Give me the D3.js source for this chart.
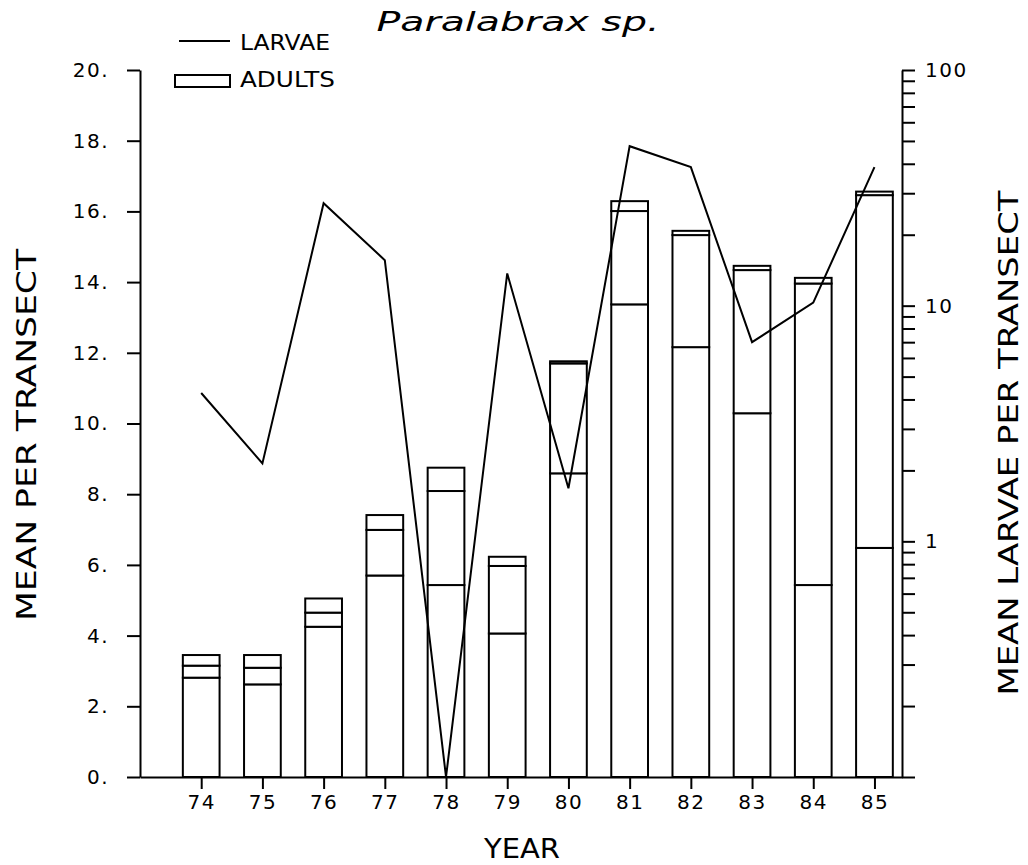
<!DOCTYPE html>
<html>
<head>
<meta charset="utf-8">
<script src="https://cdn.jsdelivr.net/npm/d3@7"></script>
<style>
  body { margin: 0; background: #fff; }
  svg { display: block; }
  text { font-family: "DejaVu Sans", sans-serif; fill: #000; }
</style>
</head>
<body>
<svg width="1028" height="865"></svg>
<script>
// Paralabrax sp. - adults (stacked bars, left axis) and larvae (line, log right axis)

const years = [74, 75, 76, 77, 78, 79, 80, 81, 82, 83, 84, 85];
// three stacked parts of each adult bar
const adultsLow = [2.81, 2.62, 4.25, 5.70, 5.43, 4.06, 8.59, 13.37, 12.16, 10.29, 5.43, 6.48];
const adultsMid = [0.34, 0.47, 0.40, 1.29, 2.66, 1.91, 3.11, 2.64, 3.17, 4.05, 8.53, 9.98];
const adultsTop = [0.30, 0.36, 0.40, 0.42, 0.66, 0.26, 0.06, 0.28, 0.12, 0.12, 0.16, 0.10];
const larvae = [4.26, 2.14, 27.2, 15.6, 0.1, 13.7, 1.68, 47.5, 38.7, 7.0, 10.3, 38.7];
const leftTicks = [0, 2, 4, 6, 8, 10, 12, 14, 16, 18, 20];
const rightLabels = [1, 10, 100];

const svg = d3.select("svg");

const plotLeft = 140, plotRight = 902, plotTop = 70, plotBottom = 777;

const x = d3.scaleLinear().domain([73, 85.45]).range([plotLeft, plotRight]);
const y = d3.scaleLinear().domain([0, 20]).range([plotBottom, plotTop]);
const yLog = d3.scaleLog().domain([0.1, 100]).range([plotBottom, plotTop]);

const table = years.map((yr, i) => ({
  year: yr, low: adultsLow[i], mid: adultsMid[i], top: adultsTop[i]
}));
const stacked = d3.stack().keys(["low", "mid", "top"])(table);

// bars
const barHalf = 0.3;
stacked.forEach((layer) => {
  svg.append("g")
    .selectAll("rect")
    .data(layer)
    .enter()
    .append("rect")
    .attr("x", (d) => x(d.data.year - barHalf))
    .attr("width", (d) => x(d.data.year + barHalf) - x(d.data.year - barHalf))
    .attr("y", (d) => y(d[1]))
    .attr("height", (d) => y(d[0]) - y(d[1]))
    .attr("fill", "#fff")
    .attr("stroke", "#000")
    .attr("stroke-width", 2);
});

// larvae line
const line = d3.line()
  .x((d, i) => x(years[i]))
  .y((d) => yLog(d));

svg.append("path")
  .datum(larvae)
  .attr("d", line)
  .attr("fill", "none")
  .attr("stroke", "#000")
  .attr("stroke-width", 2)
  .attr("stroke-linejoin", "miter");

// axes
const styleAxis = (g) => {
  g.selectAll("path, line").attr("stroke", "#000").attr("stroke-width", 2);
  g.selectAll("text")
    .style("font-family", "DejaVu Sans, sans-serif")
    .style("font-size", "20px")
    .style("letter-spacing", "1.5px")
    .attr("fill", "#000");
};

svg.append("g")
  .attr("transform", `translate(${plotLeft},0)`)
  .call(d3.axisLeft(y).tickValues(leftTicks).tickFormat((d) => d + ".").tickSize(13).tickSizeOuter(0).tickPadding(18))
  .call(styleAxis);

const minor = [];
[0.1, 1, 10].forEach((dec) => {
  for (let k = 1; k < 10; k++) minor.push(dec * k);
});
minor.push(100);

svg.append("g")
  .attr("transform", `translate(${plotRight},0)`)
  .call(d3.axisRight(yLog).tickValues(minor)
    .tickFormat((d) => (rightLabels.some((v) => Math.abs(v - d) < 1e-9) ? String(Math.round(d)) : ""))
    .tickSize(13).tickSizeOuter(0).tickPadding(10))
  .call(styleAxis);

svg.append("g")
  .attr("transform", `translate(0,${plotBottom})`)
  .call(d3.axisBottom(x).tickValues(years).tickFormat(d3.format("d")).tickSize(12).tickSizeOuter(0).tickPadding(6))
  .call(styleAxis);

// titles
svg.append("text")
  .attr("x", 518)
  .attr("y", 31)
  .attr("text-anchor", "middle")
  .attr("font-style", "italic")
  .attr("font-size", 26)
  .attr("textLength", 283)
  .attr("lengthAdjust", "spacingAndGlyphs")
  .text("Paralabrax  sp.");

svg.append("text")
  .attr("x", 522)
  .attr("y", 858)
  .attr("text-anchor", "middle")
  .attr("font-size", 26)
  .attr("textLength", 76)
  .attr("lengthAdjust", "spacingAndGlyphs")
  .text("YEAR");

svg.append("text")
  .attr("transform", "translate(36,435) rotate(-90)")
  .attr("text-anchor", "middle")
  .attr("font-size", 26)
  .attr("textLength", 372)
  .attr("lengthAdjust", "spacingAndGlyphs")
  .text("MEAN PER TRANSECT");

svg.append("text")
  .attr("transform", "translate(1018,443) rotate(-90)")
  .attr("text-anchor", "middle")
  .attr("font-size", 26)
  .attr("textLength", 505)
  .attr("lengthAdjust", "spacingAndGlyphs")
  .text("MEAN LARVAE PER TRANSECT");

// legend
const legend = svg.append("g");
legend.append("line")
  .attr("x1", 179).attr("x2", 230)
  .attr("y1", 41).attr("y2", 41)
  .attr("stroke", "#000").attr("stroke-width", 2);
legend.append("text")
  .attr("x", 240).attr("y", 50)
  .attr("font-size", 22)
  .attr("textLength", 90)
  .attr("lengthAdjust", "spacingAndGlyphs")
  .text("LARVAE");
legend.append("rect")
  .attr("x", 175).attr("y", 75)
  .attr("width", 55).attr("height", 12)
  .attr("fill", "#fff").attr("stroke", "#000").attr("stroke-width", 2);
legend.append("text")
  .attr("x", 240).attr("y", 87)
  .attr("font-size", 22)
  .attr("textLength", 95)
  .attr("lengthAdjust", "spacingAndGlyphs")
  .text("ADULTS");
</script>
</body>
</html>
